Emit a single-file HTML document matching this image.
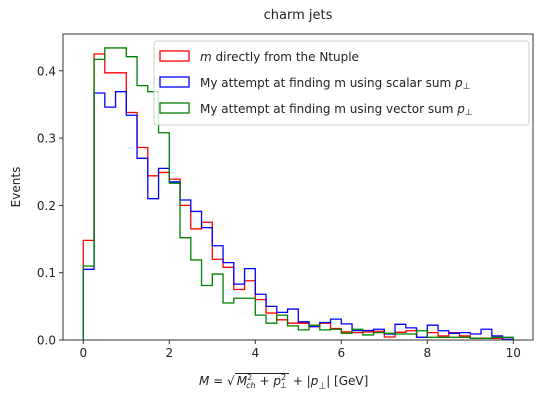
<!DOCTYPE html>
<html><head><meta charset="utf-8"><style>
body{margin:0;background:#fff;width:544px;height:404px;overflow:hidden;font-family:"DejaVu Sans","Liberation Sans",sans-serif;}
svg{position:absolute;left:0;top:0}
#xlabel{position:absolute;left:199px;top:373px;font-size:12px;color:#222;white-space:nowrap}
</style></head><body>
<svg id="chart" width="544" height="404"></svg>
<div id="xlabel"><i>M</i> = √<span style="border-top:1px solid #222;padding:0 2px"><i>M</i><sup style="font-size:8px">2</sup><sub style="font-size:8px;margin-left:-6px"><i>ch</i></sub> + <i>p</i><sup style="font-size:8px">2</sup><sub style="font-size:8px;margin-left:-6px">⊥</sub></span> + |<i>p</i><sub style="font-size:9px">⊥</sub>| [GeV]</div>
<script>
const binWidth = 0.25;
const redValues = [0.148,0.425,0.397,0.397,0.338,0.286,0.244,0.249,0.239,0.200,0.165,0.175,0.120,0.108,0.075,0.088,0.060,0.040,0.030,0.025,0.025,0.020,0.025,0.017,0.012,0.011,0.012,0.013,0.0045,0.0114,0.0138,0.004,0.011,0.006,0.011,0.006,0.0025,0.0025,0.0025,0.001];
const blueValues = [0.105,0.367,0.346,0.369,0.334,0.270,0.210,0.255,0.235,0.208,0.191,0.167,0.140,0.115,0.083,0.106,0.068,0.050,0.041,0.046,0.027,0.020,0.026,0.031,0.024,0.014,0.014,0.016,0.0089,0.0233,0.018,0.004,0.022,0.0138,0.0099,0.011,0.0089,0.016,0.006,0.001];
const greenValues = [0.110,0.417,0.434,0.434,0.421,0.378,0.369,0.308,0.233,0.152,0.119,0.081,0.098,0.055,0.062,0.062,0.037,0.025,0.037,0.021,0.015,0.022,0.015,0.016,0.010,0.016,0.0075,0.011,0.0099,0.0089,0.0089,0.0138,0.004,0.004,0.004,0.004,0.0025,0.0025,0.004,0.004];
const xTicks = [0,2,4,6,8,10];
const yTicks = [0.0,0.1,0.2,0.3,0.4];
const legendLabels = ["directly from the Ntuple","My attempt at finding m using scalar sum ","My attempt at finding m using vector sum "];

const NS="http://www.w3.org/2000/svg";
const svg=document.getElementById('chart');
const L=63,R=533,T=34,B=340;
function xs(v){return 83.3+v*43;}
function ys(v){return 340-v*673;}
function mk(tag,attrs,parent){const e=document.createElementNS(NS,tag);for(const k in attrs)e.setAttribute(k,attrs[k]);(parent||svg).appendChild(e);return e;}

const title=mk('text',{x:298,y:19,'text-anchor':'middle','font-size':13,fill:'#222'});
title.textContent='charm jets';



const yl=mk('text',{x:0,y:0,'text-anchor':'middle','font-size':12,fill:'#222',transform:'translate(20,187) rotate(-90)'});
yl.textContent='Events';



xTicks.forEach(t=>{
  const g=mk('g',{});
  
  
  mk('line',{x1:xs(t),x2:xs(t),y1:B,y2:B+4,stroke:'#333'},g);
  const tx=mk('text',{x:xs(t),y:B+17,'text-anchor':'middle','font-size':12,fill:'#222'},g);
  tx.textContent=t;
});
yTicks.forEach(t=>{
  const g=mk('g',{});
  
  
  mk('line',{x1:L-4,x2:L,y1:ys(t),y2:ys(t),stroke:'#333'},g);
  const tx=mk('text',{x:L-7,y:ys(t)+4.5,'text-anchor':'end','font-size':12,fill:'#222'},g);
  tx.textContent=t.toFixed(1);
});

function hist(vals,color,name){
  let d='M'+xs(0)+','+ys(0);
  vals.forEach((v,i)=>{d+=' L'+xs(i*binWidth)+','+ys(v)+' L'+xs((i+1)*binWidth)+','+ys(v);});
  d+=' L'+xs(vals.length*binWidth)+','+ys(0);
  const p=mk('path',{d:d,fill:'none',stroke:color,'stroke-width':1.3});
  
  
}
hist(redValues,'#ff0000','hist-red-ntuple');
hist(blueValues,'#0000ff','hist-blue-scalar');
hist(greenValues,'#008000','hist-green-vector');

const frame=mk('rect',{x:L,y:T,width:R-L,height:B-T,fill:'none',stroke:'#333','stroke-width':1});



const lg=mk('g',{});


mk('rect',{x:154,y:41,width:375,height:84,rx:3,fill:'#fff','fill-opacity':0.8,stroke:'#ccc'},lg);
const cols=['#ff0000','#0000ff','#008000'];
legendLabels.forEach((lab,i)=>{
  const y=56+i*26;
  const g=mk('g',{},lg);
  
  
  mk('rect',{x:160,y:y-5,width:29,height:10,fill:'none',stroke:cols[i],'stroke-width':1.3},g);
  const t=mk('text',{x:200,y:y+5,'font-size':12,fill:'#222'},g);
  if(i===0){const a=mk('tspan',{'font-style':'italic'},t);a.textContent='m ';const b=mk('tspan',{},t);b.textContent=lab;}
  else{const b=mk('tspan',{},t);b.textContent=lab;const a=mk('tspan',{'font-style':'italic'},t);a.textContent='p';const c=mk('tspan',{'font-size':9,dy:2},t);c.textContent='⊥';}
});
</script>
</body></html>
